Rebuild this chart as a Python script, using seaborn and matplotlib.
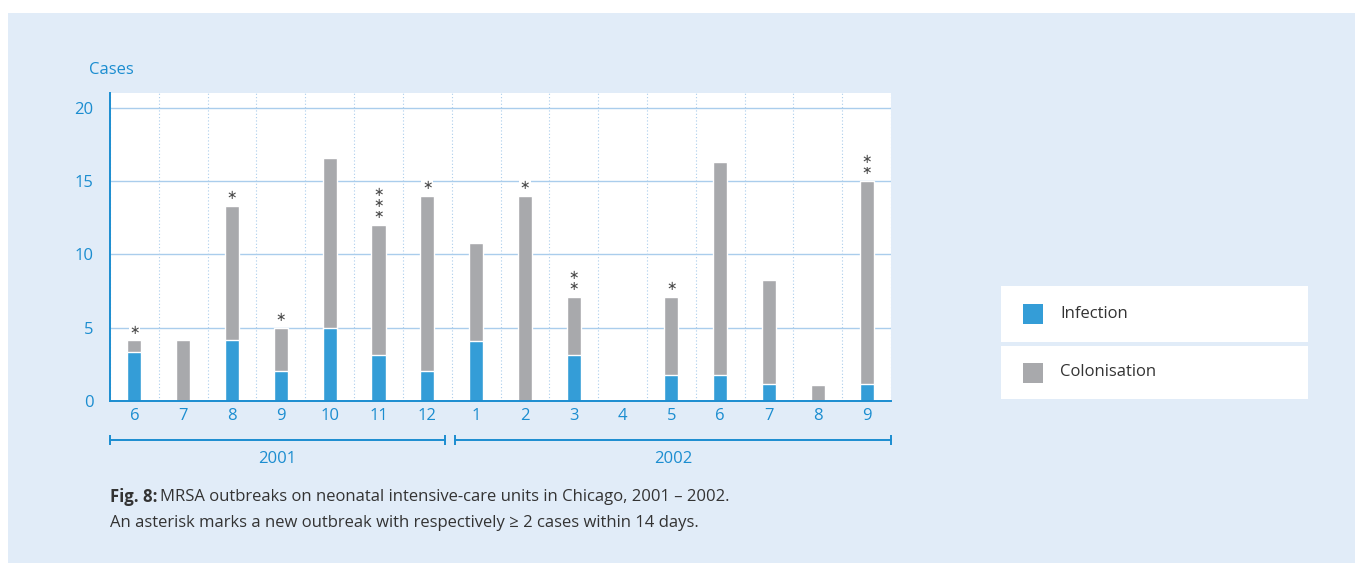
import numpy as np
import pandas as pd
import matplotlib.pyplot as plt
import seaborn as sns
from matplotlib.patches import Rectangle
import matplotlib.transforms as mtransforms

# data
months = ["6", "7", "8", "9", "10", "11", "12", "1", "2", "3", "4", "5", "6", "7", "8", "9"]
years = [2001] * 7 + [2002] * 9
total_cases = [4.15, 4.15, 13.3, 5.0, 16.6, 12.0, 14.0, 10.8, 14.0, 7.1, 0, 7.1, 16.3, 8.25, 1.1, 15.0]
infection = [3.35, 0, 4.15, 2.05, 5.0, 3.15, 2.05, 4.1, 0, 3.15, 0, 1.75, 1.75, 1.15, 0, 1.15]
asterisks = [1, 0, 1, 1, 0, 3, 1, 0, 1, 2, 0, 1, 0, 0, 0, 2]

BLUE = "#349dd7"
GRAY = "#a8a9ac"
AXBLUE = "#1b8dd0"
GRID = "#aacdec"
PANEL = "#e1ecf8"
TXT = "#333333"

W, H = 1355, 563

sns.set_style("white")
plt.rcParams["font.family"] = ["Open Sans", "DejaVu Sans"]

df = pd.DataFrame({
    "key": [f"{y}-{m}" for y, m in zip(years, months)],
    "Total": total_cases,
    "Infection": infection,
})

fig = plt.figure(figsize=(W / 100, H / 100), dpi=100, facecolor="white")
fig.patches.append(Rectangle((8 / W, 0), 1, 1 - 13 / H, transform=fig.transFigure,
                             facecolor=PANEL, edgecolor="none", zorder=-5))


def fx(x):
    return x / W


def fy(y):
    return 1 - y / H


ax = fig.add_axes([fx(110), fy(401), (891 - 110) / W, (401 - 93) / H])
ax.set_facecolor("white")
ax.set_zorder(2)

sns.barplot(data=df, x="key", y="Total", color=GRAY, width=0.29, saturation=1, ax=ax, zorder=3)
sns.barplot(data=df, x="key", y="Infection", color=BLUE, width=0.29, saturation=1, ax=ax, zorder=3)

ax.set_xlim(-0.5, len(months) - 0.5)
ax.set_ylim(0, 21)
ax.set_xlabel("")
ax.set_ylabel("")

# ticks at category boundaries, labels centred
ax.set_xticks(np.arange(-0.5, len(months), 1))
ax.set_xticklabels([])
ax.set_xticks(np.arange(len(months)), minor=True)
ax.set_xticklabels(months, minor=True)
ax.tick_params(axis="x", which="major", length=7, width=1.3, color=AXBLUE, direction="out")
ax.tick_params(axis="x", which="minor", length=0, pad=5, labelsize=12, labelcolor=AXBLUE)
ax.set_yticks([0, 5, 10, 15, 20])
ax.tick_params(axis="y", length=7, width=1.3, color=AXBLUE, direction="out",
               labelsize=12, labelcolor=AXBLUE, pad=5)

ax.grid(axis="y", color=GRID, linewidth=1, linestyle="-")
ax.grid(axis="x", which="major", color=GRID, linewidth=0.8, linestyle=(0, (1, 2)))
ax.set_axisbelow(True)

for s in ["top", "right"]:
    ax.spines[s].set_visible(False)
for s in ["left", "bottom"]:
    ax.spines[s].set_color(AXBLUE)
    ax.spines[s].set_linewidth(1.4)
    ax.spines[s].set_zorder(5)

# asterisks above the bars (centred asterisk glyph so stacked ones do not clash)
for i, n in enumerate(asterisks):
    for k in range(n):
        ax.annotate("\u2217", xy=(i, total_cases[i]), xytext=(0, 10 + 11.5 * k),
                    textcoords="offset pixels", ha="center", va="center",
                    fontsize=9, color="#4a4a4a", family="DejaVu Sans",
                    bbox=dict(boxstyle="square,pad=0.05", fc="white", ec="none"),
                    zorder=4)

# year brackets
trans = mtransforms.blended_transform_factory(ax.transData, ax.transAxes)
yb = (401 - 440) / (401 - 93)
yt = (401 - 459) / (401 - 93)
for (x0, x1, label) in [(-0.5, 6.36, "2001"), (6.57, 15.5, "2002")]:
    ax.plot([x0, x1], [yb, yb], transform=trans, color=AXBLUE, lw=1.4, clip_on=False,
            marker="|", markersize=7, markeredgewidth=1.4)
    ax.text((x0 + x1) / 2, yt, label, transform=trans, ha="center", va="center",
            fontsize=12, color=AXBLUE)

fig.text(fx(89), fy(70), "Cases", ha="left", va="center", fontsize=12, color=AXBLUE)

# legend panels
for (y0, y1, col, lab) in [(286, 342, BLUE, "Infection"), (346, 399, GRAY, "Colonisation")]:
    fig.patches.append(Rectangle((fx(1001), fy(y1)), (1308 - 1001) / W, (y1 - y0) / H,
                                 transform=fig.transFigure, facecolor="white",
                                 edgecolor="none", zorder=1))
    yc = (y0 + y1) / 2
    fig.patches.append(Rectangle((fx(1023), fy(yc + 10)), 20 / W, 20 / H,
                                 transform=fig.transFigure, facecolor=col,
                                 edgecolor="none", zorder=2))
    fig.text(fx(1060), fy(yc), lab, ha="left", va="center", fontsize=12, color=TXT)

# caption
bold = fig.text(fx(110), fy(497), "Fig. 8:", ha="left", va="center", fontsize=12,
                fontweight="bold", color=TXT)
fig.canvas.draw()
bb = bold.get_window_extent(fig.canvas.get_renderer())
fig.text(bb.x1 / W + 3 / W, fy(497),
         "MRSA outbreaks on neonatal intensive-care units in Chicago, 2001 \u2013 2002.",
         ha="left", va="center", fontsize=12, color=TXT)
fig.text(fx(110), fy(523),
         "An asterisk marks a new outbreak with respectively \u2265 2 cases within 14 days.",
         ha="left", va="center", fontsize=12, color=TXT)

fig.savefig("out.png", dpi=100, facecolor="white")
